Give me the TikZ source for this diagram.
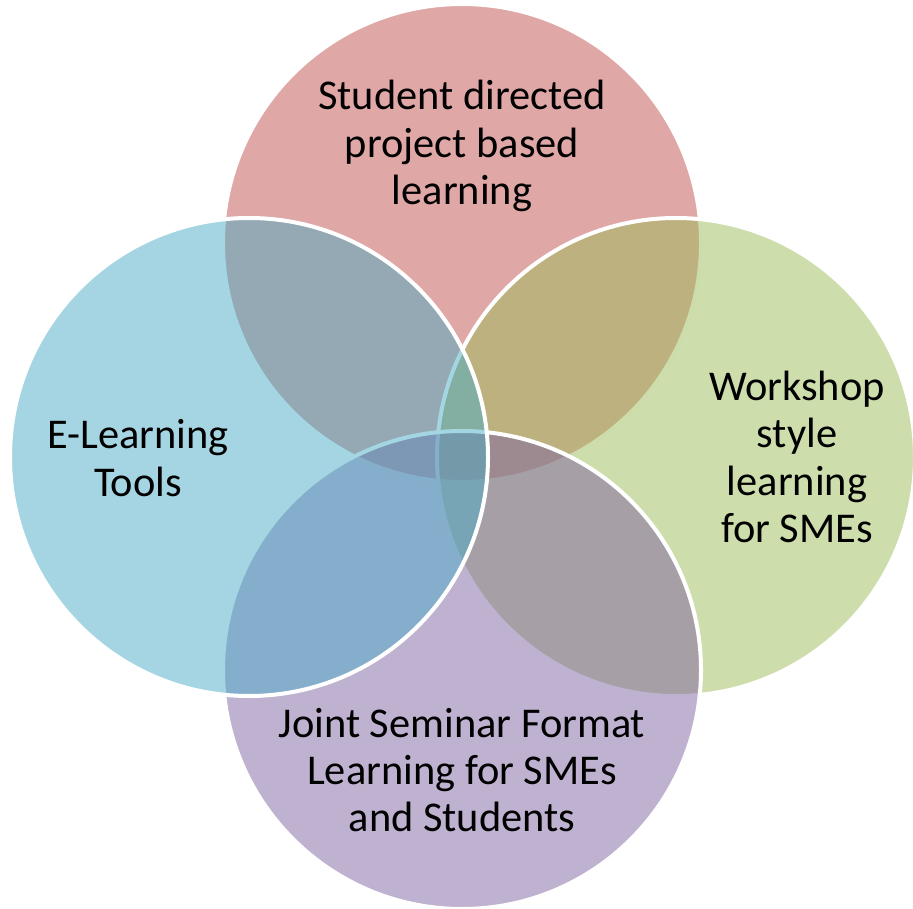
\documentclass[tikz,border=0pt]{standalone}
\usepackage{fontspec}
\setmainfont{Carlito}
\definecolor{topred}{RGB}{192, 80, 77}
\definecolor{rightgreen}{RGB}{155, 187, 89}
\definecolor{bottompurple}{RGB}{128, 100, 162}
\definecolor{leftaqua}{RGB}{75, 172, 198}

\begin{document}
\begin{tikzpicture}[x=0.75pt, y=0.75pt,
        blob/.style={fill=#1, fill opacity=0.5, draw=white, draw opacity=1, line width=3pt},
        vennlabel/.style={align=center, text=black, font=\fontsize{31.8pt}{35.5pt}\selectfont}]
        \useasboundingbox (0,0) rectangle (913,908);
        \clip (0,0) rectangle (913,908);

        % Top circle
        \draw[blob=topred] (462,665) circle (239);
        % Right circle
        \draw[blob=rightgreen] (676,451) circle (239);
        % Bottom circle
        \draw[blob=bottompurple] (462,238) circle (239);
        % Left circle
        \draw[blob=leftaqua] (249,451) circle (239);

        % Labels
        \node[vennlabel] (student) at (462,762) {Student directed\\project based\\learning};
        \node[vennlabel] (workshop) at (797,451) {Workshop\\style\\learning\\for SMEs};
        \node[vennlabel] (seminar) at (462,138) {Joint Seminar Format\\Learning for SMEs\\and Students};
        \node[vennlabel] (elearn) at (138,450) {E-Learning\\Tools};
    \end{tikzpicture}
\end{document}
